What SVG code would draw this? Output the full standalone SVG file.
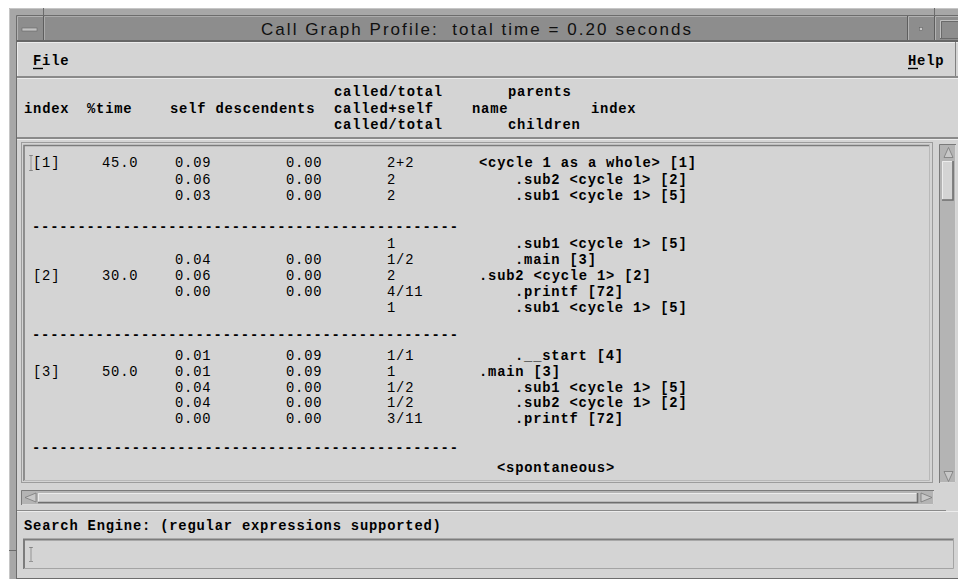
<svg xmlns="http://www.w3.org/2000/svg" width="958" height="579" viewBox="0 0 958 579">
<style>
.t{font-family:"Liberation Mono","DejaVu Sans Mono",monospace;font-size:13.8px;letter-spacing:0.8px;fill:#000}
.b{font-weight:bold}
.ttl{font-family:"Liberation Sans",Arial,sans-serif;font-size:17px;fill:#101010}
.dk{fill:none;stroke:#808080}
.lt{fill:none;stroke:#ececec}
</style>
<rect width="958" height="579" fill="#ffffff"/>
<g id="frame">
<rect x="9" y="8" width="949" height="571" fill="#a7a7a7"/>
<path d="M9.5 579V8.5H958" fill="none" stroke="#c6c6c6"/>
<path d="M16.5 579V15.5H958" fill="none" stroke="#6c6c6c"/>
<path d="M43.5 8v7M934.5 8v7M9 550.5h7M43.5 577v2" stroke="#6c6c6c"/>
</g>
<g id="titlebar">
<rect x="17" y="16" width="941" height="25" fill="#8d8d8d"/>
<path d="M17.5 40V16.5H43" fill="none" stroke="#b2b2b2"/>
<path d="M17 40.5H43.5V16" fill="none" stroke="#5e5e5e"/>
<rect x="22" y="28" width="15" height="3" fill="#c2c2c2" stroke="#666" stroke-width="0.6"/>
<path d="M44.5 40V16.5H908" fill="none" stroke="#ababab"/>
<path d="M44 40.5H907.5V16" fill="none" stroke="#5e5e5e"/>
<text class="ttl" x="261" y="35" textLength="430" lengthAdjust="spacing" xml:space="preserve">Call Graph Profile:  total time = 0.20 seconds</text>
<path d="M908.5 40V16.5H934" fill="none" stroke="#b2b2b2"/>
<path d="M908 40.5H934.5V16" fill="none" stroke="#5e5e5e"/>
<rect x="919.5" y="27.5" width="3" height="3" fill="#c8c8c8" stroke="#666" stroke-width="0.6"/>
<path d="M935.5 40V16.5H958" fill="none" stroke="#b2b2b2"/>
<path d="M935 40.5H958" fill="none" stroke="#5e5e5e"/>
<path d="M940.5 38V20.5H958" fill="none" stroke="#c0c0c0"/>
<path d="M941.5 38V21.5H958" fill="none" stroke="#6a6a6a"/>
<path d="M940 38.5H958" fill="none" stroke="#6a6a6a"/>
<rect x="17" y="40" width="941" height="2" fill="#666"/>
</g>
<g id="body">
<rect x="17" y="42" width="941" height="537" fill="#d4d4d4"/>
</g>
<g id="menubar">
<path d="M17.5 77V42.5H958" class="lt"/>
<rect x="17" y="76" width="941" height="2" fill="#8a8a8a"/>
<path d="M17 78.5H958" class="lt"/>
<path d="M955.5 42v34" class="dk"/>
<text class="t b" x="33" y="65">File</text>
<path d="M33 68.5h10" stroke="#000" stroke-width="1.4"/>
<text class="t b" x="908" y="65">Help</text>
<path d="M908 68.5h10" stroke="#000" stroke-width="1.4"/>
</g>
<g id="header">
<text class="t b" x="24" y="113">index</text>
<text class="t b" x="87" y="113">%time</text>
<text class="t b" x="170" y="113" xml:space="preserve">self descendents</text>
<text class="t b" x="334" y="96">called/total</text>
<text class="t b" x="334" y="112.5">called+self</text>
<text class="t b" x="334" y="129">called/total</text>
<text class="t b" x="508" y="96">parents</text>
<text class="t b" x="472" y="112.5">name</text>
<text class="t b" x="591" y="112.5">index</text>
<text class="t b" x="508" y="129">children</text>
<rect x="17" y="137" width="941" height="2" fill="#8a8a8a"/>
<path d="M17 139.5H958" class="lt"/>
</g>
<g id="list">
<rect x="21.5" y="142.5" width="911" height="340" fill="none" stroke="#9c9c9c"/>
<path d="M24 481V145.5H930" fill="none" stroke="#7c7c7c" stroke-width="1.6"/>
<path d="M24 480.5H929.5V145" fill="none" stroke="#b8b8b8"/>
<path d="M29.5 155.5h3M31 155.5v15M29.5 170.5h3" fill="none" stroke="#555" stroke-dasharray="1 1"/>
<g class="t">
<text x="33" y="167">[1]</text><text x="102" y="167">45.0</text><text x="175" y="167">0.09</text><text x="286" y="167">0.00</text><text x="387" y="167">2+2</text>
<text x="175" y="183.5">0.06</text><text x="286" y="183.5">0.00</text><text x="387" y="183.5">2</text>
<text x="175" y="200">0.03</text><text x="286" y="200">0.00</text><text x="387" y="200">2</text>
<text x="387" y="247.5">1</text>
<text x="175" y="263.5">0.04</text><text x="286" y="263.5">0.00</text><text x="387" y="263.5">1/2</text>
<text x="33" y="279.5">[2]</text><text x="102" y="279.5">30.0</text><text x="175" y="279.5">0.06</text><text x="286" y="279.5">0.00</text><text x="387" y="279.5">2</text>
<text x="175" y="295.5">0.00</text><text x="286" y="295.5">0.00</text><text x="387" y="295.5">4/11</text>
<text x="387" y="311.5">1</text>
<text x="175" y="360">0.01</text><text x="286" y="360">0.09</text><text x="387" y="360">1/1</text>
<text x="33" y="375.8">[3]</text><text x="102" y="375.8">50.0</text><text x="175" y="375.8">0.01</text><text x="286" y="375.8">0.09</text><text x="387" y="375.8">1</text>
<text x="175" y="391.6">0.04</text><text x="286" y="391.6">0.00</text><text x="387" y="391.6">1/2</text>
<text x="175" y="407.4">0.04</text><text x="286" y="407.4">0.00</text><text x="387" y="407.4">1/2</text>
<text x="175" y="423.2">0.00</text><text x="286" y="423.2">0.00</text><text x="387" y="423.2">3/11</text>
</g>
<g class="t b">
<text x="32" y="231">-----------------------------------------------</text>
<text x="32" y="339">-----------------------------------------------</text>
<text x="32" y="452">-----------------------------------------------</text>
<text x="479" y="167">&lt;cycle 1 as a whole&gt; [1]</text>
<text x="515" y="183.5">.sub2 &lt;cycle 1&gt; [2]</text>
<text x="515" y="200">.sub1 &lt;cycle 1&gt; [5]</text>
<text x="515" y="247.5">.sub1 &lt;cycle 1&gt; [5]</text>
<text x="515" y="263.5">.main [3]</text>
<text x="479" y="279.5">.sub2 &lt;cycle 1&gt; [2]</text>
<text x="515" y="295.5">.printf [72]</text>
<text x="515" y="311.5">.sub1 &lt;cycle 1&gt; [5]</text>
<text x="515" y="360">.__start [4]</text>
<text x="479" y="375.8">.main [3]</text>
<text x="515" y="391.6">.sub1 &lt;cycle 1&gt; [5]</text>
<text x="515" y="407.4">.sub2 &lt;cycle 1&gt; [2]</text>
<text x="515" y="423.2">.printf [72]</text>
<text x="497" y="472">&lt;spontaneous&gt;</text>
</g>
</g>
<g id="vscroll">
<rect x="939" y="144" width="17" height="339" fill="#b4b4b4"/>
<path d="M939.5 483V144.5H956" fill="none" stroke="#7a7a7a"/>
<path d="M940 482.5H955.5V145" fill="none" stroke="#d8d8d8"/>
<path d="M948.5 147.5L944 157.5H953Z" fill="#c8c8c8" stroke="#7a7a7a" stroke-width="0.8"/>
<rect x="942" y="161" width="11" height="39" fill="#d4d4d4"/>
<path d="M942.5 200V161.5H953" fill="none" stroke="#ececec"/>
<path d="M942 200H953V161" fill="none" stroke="#6e6e6e" stroke-width="1.6"/>
<path d="M948.5 481.5L944 471.5H953Z" fill="#c8c8c8" stroke="#7a7a7a" stroke-width="0.8"/>
</g>
<g id="hscroll">
<rect x="21" y="490" width="913" height="15" fill="#b4b4b4"/>
<path d="M21.5 505V490.5H934" fill="none" stroke="#7a7a7a"/>
<path d="M22 504.5H933.5V491" fill="none" stroke="#d8d8d8"/>
<path d="M25 497.5L36 493V502Z" fill="#c8c8c8" stroke="#7a7a7a" stroke-width="0.8"/>
<rect x="38" y="493" width="880" height="10" fill="#d4d4d4"/>
<path d="M38.5 503V493.5H918" fill="none" stroke="#ececec"/>
<path d="M38 502.5H917.5V493" fill="none" stroke="#6e6e6e" stroke-width="1.6"/>
<path d="M932 497.5L921 493V502Z" fill="#c8c8c8" stroke="#7a7a7a" stroke-width="0.8"/>
</g>
<g id="search">
<path d="M17 510.5H946" stroke="#8a8a8a"/>
<path d="M17 511.5H958" class="lt"/>
<text class="t b" x="24" y="530">Search Engine: (regular expressions supported)</text>
<rect x="23" y="538" width="931" height="32" fill="#d4d4d4"/>
<path d="M24 569V539.5H954" fill="none" stroke="#7c7c7c" stroke-width="2"/>
<path d="M24 568.5H953.5V539" fill="none" stroke="#a4a4a4"/>
<path d="M29.5 547.5h3M31 547.5v14M29.5 561.5h3" fill="none" stroke="#555" stroke-dasharray="1 1"/>
<path d="M17 578.5H958" stroke="#6c6c6c"/>
</g>
</svg>
